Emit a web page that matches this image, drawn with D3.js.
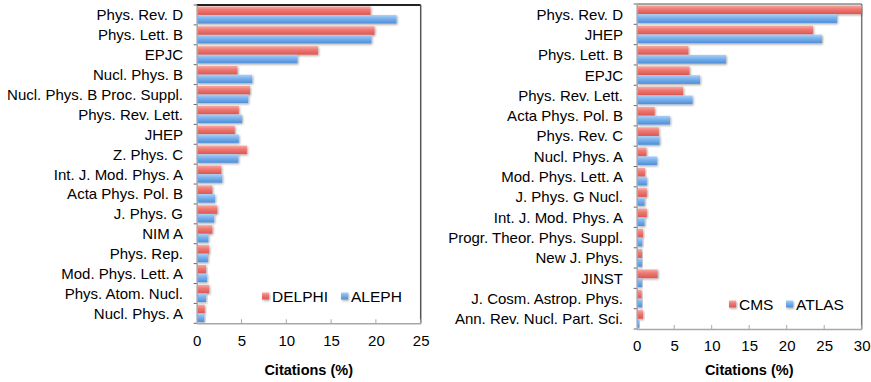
<!DOCTYPE html>
<html>
<head>
<meta charset="utf-8">
<script src="https://cdn.jsdelivr.net/npm/d3@7"></script>
<style>
	body { margin: 0; background: #fff; }
	svg { display: block; font-family: "Liberation Sans", Arial, sans-serif; }
</style>
</head>
<body>
<svg id="chart" width="871" height="382"></svg>
<script>
// LEP experiments (left panel)
var lepJournals = ["Phys. Rev. D", "Phys. Lett. B", "EPJC", "Nucl. Phys. B", "Nucl. Phys. B Proc. Suppl.",
	"Phys. Rev. Lett.", "JHEP", "Z. Phys. C", "Int. J. Mod. Phys. A", "Acta Phys. Pol. B", "J. Phys. G",
	"NIM A", "Phys. Rep.", "Mod. Phys. Lett. A", "Phys. Atom. Nucl.", "Nucl. Phys. A"];
var delphiValues = [19.4, 19.85, 13.55, 4.55, 5.95, 4.7, 4.25, 5.6, 2.75, 1.75, 2.3, 1.75, 1.4, 1.05, 1.4, 0.9];
var alephValues = [22.3, 19.5, 11.25, 6.2, 5.75, 5.05, 4.7, 4.65, 2.85, 2.05, 1.95, 1.3, 1.25, 1.15, 1.05, 0.85];
var lepTicks = [0, 5, 10, 15, 20, 25];

// LHC experiments (right panel)
var lhcJournals = ["Phys. Rev. D", "JHEP", "Phys. Lett. B", "EPJC", "Phys. Rev. Lett.", "Acta Phys. Pol. B",
	"Phys. Rev. C", "Nucl. Phys. A", "Mod. Phys. Lett. A", "J. Phys. G Nucl.", "Int. J. Mod. Phys. A",
	"Progr. Theor. Phys. Suppl.", "New J. Phys.", "JINST", "J. Cosm. Astrop. Phys.", "Ann. Rev. Nucl. Part. Sci."];
var cmsValues = [30, 23.5, 6.9, 7.05, 6.2, 2.4, 2.95, 1.3, 1.1, 1.35, 1.35, 0.85, 0.7, 2.8, 0.65, 0.85];
var atlasValues = [26.7, 24.7, 11.9, 8.45, 7.45, 4.45, 3.05, 2.7, 1.35, 1.05, 1.05, 0.75, 0.7, 0.7, 0.7, 0.35];
var lhcTicks = [0, 5, 10, 15, 20, 25, 30];

var svg = d3.select("#chart");
var defs = svg.append("defs");

function addGradient(id, c0, c1, c2) {
	var g = defs.append("linearGradient").attr("id", id)
		.attr("x1", 0).attr("y1", 0).attr("x2", 0).attr("y2", 1);
	g.append("stop").attr("offset", "0%").attr("stop-color", c0);
	g.append("stop").attr("offset", "40%").attr("stop-color", c1);
	g.append("stop").attr("offset", "100%").attr("stop-color", c2);
}
addGradient("gradRed", "#f8aaa5", "#ee7a74", "#dd5752");
addGradient("gradBlue", "#acd0f6", "#7db3ee", "#4e8ed8");

var shadow = defs.append("filter").attr("id", "shadow")
	.attr("x", "-10%").attr("y", "-30%").attr("width", "130%").attr("height", "180%");
shadow.append("feDropShadow").attr("dx", 1).attr("dy", 1.2)
	.attr("stdDeviation", 0.9).attr("flood-color", "#000").attr("flood-opacity", 0.35);

function drawPanel(o) {
	var x = d3.scaleLinear().domain([0, o.max]).range([o.left, o.right]);
	var y = d3.scaleBand().domain(o.cats).range([o.top, o.bottom]).paddingInner(0.12).paddingOuter(0.06);
	var sub = d3.scaleBand().domain([0, 1]).range([0, y.bandwidth()]).padding(0.02);

	var g = svg.append("g");

	// frame (top + right)
	g.append("line").attr("x1", o.left).attr("x2", o.right).attr("y1", o.top).attr("y2", o.top)
		.attr("stroke", o.frameTop).attr("stroke-width", o.frameTopW);
	g.append("line").attr("x1", o.right).attr("x2", o.right).attr("y1", o.top).attr("y2", o.bottom)
		.attr("stroke", o.frameRight).attr("stroke-width", 1.5);

	// bars
	var series = [o.red, o.blue];
	var fills = ["url(#gradRed)", "url(#gradBlue)"];
	var clipId = "clip" + o.id;
	defs.append("clipPath").attr("id", clipId).append("rect")
		.attr("x", o.left).attr("y", o.top).attr("width", o.right - o.left + 1).attr("height", o.bottom - o.top);

	series.forEach(function (vals, s) {
		g.append("g").attr("clip-path", "url(#" + clipId + ")")
			.selectAll("rect").data(vals).enter().append("rect")
			.attr("x", x(0))
			.attr("y", function (d, i) { return y(o.cats[i]) + sub(s); })
			.attr("width", function (d) { return x(d) - x(0); })
			.attr("height", sub.bandwidth())
			.attr("fill", fills[s])
			.attr("filter", "url(#shadow)");
	});

	// y axis
	var yAxis = d3.axisLeft(y).tickSize(0).tickPadding(o.left - o.labelRight);
	var ya = g.append("g").attr("transform", "translate(" + o.left + ",0)").call(yAxis);
	ya.select(".domain").attr("stroke", "#a8a8a8").attr("stroke-width", 1.5);
	ya.selectAll("text").attr("font-size", "15px").attr("fill", "#000").attr("dy", "0.36em");
	// little category separators on the left axis
	var step = y.step();
	g.selectAll("line.sep").data(d3.range(o.cats.length + 1)).enter().append("line")
		.attr("class", "sep")
		.attr("x1", o.left - 3).attr("x2", o.left)
		.attr("y1", function (d) { return o.top + d * step; })
		.attr("y2", function (d) { return o.top + d * step; })
		.attr("stroke", "#666").attr("stroke-width", 1);

	// x axis
	var xAxis = d3.axisBottom(x).tickValues(o.ticks).tickSize(0).tickPadding(o.tickPad).tickFormat(d3.format("d"));
	var xa = g.append("g").attr("transform", "translate(0," + o.bottom + ")").call(xAxis);
	xa.select(".domain").attr("stroke", "#a8a8a8").attr("stroke-width", 1.5);
	xa.selectAll("text").attr("font-size", "15px").attr("fill", "#000");
	g.selectAll("line.xt").data(o.ticks.slice(1)).enter().append("line")
		.attr("class", "xt")
		.attr("x1", function (d) { return x(d); }).attr("x2", function (d) { return x(d); })
		.attr("y1", o.bottom).attr("y2", o.bottom - 4)
		.attr("stroke", "#a8a8a8").attr("stroke-width", 1);

	g.append("text").attr("x", (o.left + o.right) / 2).attr("y", o.titleY)
		.attr("text-anchor", "middle").attr("font-size", "14.5px").attr("font-weight", "bold")
		.text("Citations (%)");

	// legend
	var lg = g.append("g");
	o.legend.forEach(function (L, i) {
		lg.append("rect").attr("x", L.x).attr("y", o.legendY - 3.5).attr("width", 7).attr("height", 7)
			.attr("fill", fills[i]).attr("filter", "url(#shadow)");
		lg.append("text").attr("x", L.x + 10).attr("y", o.legendY).attr("dy", "0.36em")
			.attr("font-size", "15.5px").text(L.name);
	});
}

drawPanel({
	id: "lep", cats: lepJournals, red: delphiValues, blue: alephValues, ticks: lepTicks, max: 25,
	left: 196.7, right: 420.7, top: 5, bottom: 323.3, labelRight: 183, tickPad: 12, titleY: 375,
	frameTop: "#222", frameTopW: 2, frameRight: "#555",
	legendY: 296, legend: [{ name: "DELPHI", x: 262 }, { name: "ALEPH", x: 341 }]
});

drawPanel({
	id: "lhc", cats: lhcJournals, red: cmsValues, blue: atlasValues, ticks: lhcTicks, max: 30,
	left: 636.7, right: 861.7, top: 4, bottom: 329, labelRight: 623, tickPad: 11, titleY: 375,
	frameTop: "#888", frameTopW: 1.5, frameRight: "#777",
	legendY: 304, legend: [{ name: "CMS", x: 729 }, { name: "ATLAS", x: 786 }]
});
</script>
</body>
</html>
